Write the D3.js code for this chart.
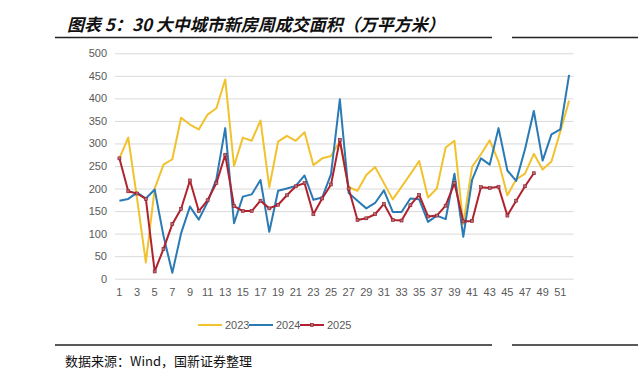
<!DOCTYPE html>
<html><head><meta charset="utf-8">
<script src="https://cdn.jsdelivr.net/npm/d3@7"></script>
<style>
html,body{margin:0;padding:0;background:#fff;}
svg{display:block;}
</style></head>
<body>
<svg id="chart" width="638" height="381"></svg>
<script>
const weeks = [1,2,3,4,5,6,7,8,9,10,11,12,13,14,15,16,17,18,19,20,21,22,23,24,25,26,27,28,29,30,31,32,33,34,35,36,37,38,39,40,41,42,43,44,45,46,47,48,49,50,51,52];
const y2023 = [267,313,178,36,200,253,265,357,342,331,364,378,442,250,313,306,351,203,304,317,306,325,252,267,272,305,203,195,230,248,212,176,204,232,261,180,200,291,306,121,248,276,307,260,185,220,233,277,242,260,326,395];
const y2024 = [173,177,191,178,198,95,13,101,160,131,170,221,334,123,182,187,219,104,195,200,206,229,175,180,232,398,190,173,156,168,196,148,148,178,176,126,140,132,233,93,219,267,253,334,240,217,287,372,262,320,331,452];
const y2025 = [267,194,189,177,16,66,121,155,218,150,174,212,275,161,150,150,173,156,164,185,205,212,143,178,209,308,200,130,134,143,166,130,129,163,186,138,140,162,212,127,128,203,201,204,140,173,205,234];
const yTicks = [0,50,100,150,200,250,300,350,400,450,500];
const xTickLabels = weeks.filter(w => w % 2 === 1);
const seriesNames = ["2023","2024","2025"];
const seriesColors = ["#F2C12E","#2A7AB5","#B0222E"];

(function(){
const svg = d3.select("#chart");
const pL = 115, pR = 573.5, pT = 53.3, pB = 278.7;
const x = d3.scaleBand().domain(weeks).range([pL, pR]).paddingInner(0).paddingOuter(0);
const y = d3.scaleLinear().domain([0, 500]).range([pB, pT]);
const cx = w => x(w) + x.bandwidth() / 2;
const mk = 3;

// Title
svg.append("text").attr("x", 67).attr("y", 31)
  .attr("font-family", "'Noto Sans CJK SC'").attr("font-weight", "bold")
  .attr("font-style", "italic").attr("font-size", 17).attr("fill", "#111")
  .text("图表 5：30 大中城市新房周成交面积（万平方米）");
svg.append("line").attr("x1", 55).attr("x2", 492).attr("y1", 37.5).attr("y2", 37.5).attr("stroke", "#222").attr("stroke-width", 1.3);
svg.append("line").attr("x1", 512).attr("x2", 638).attr("y1", 37.5).attr("y2", 37.5).attr("stroke", "#222").attr("stroke-width", 1.3);

// Grid + y axis
const gy = svg.append("g").attr("transform", `translate(${pL},0)`)
  .call(d3.axisLeft(y).tickValues(yTicks).tickSize(-(pR - pL)).tickPadding(8));
gy.select(".domain").remove();
gy.selectAll(".tick line").attr("stroke", "#D9D9D9").attr("stroke-width", 1);
gy.selectAll(".tick text").attr("font-family", "'Liberation Sans', Arial, sans-serif").attr("font-size", 11).attr("fill", "#595959");

// x axis
const gx = svg.append("g").attr("transform", `translate(0,${pB})`)
  .call(d3.axisBottom(x).tickValues(xTickLabels).tickSize(0).tickPadding(10));
gx.select(".domain").remove();
gx.selectAll(".tick text").attr("font-family", "'Liberation Sans', Arial, sans-serif").attr("font-size", 11).attr("fill", "#595959");

const line = d3.line().x(d => cx(d[0])).y(d => y(d[1]));
const data = [y2023, y2024, y2025].map(arr => arr.map((v, i) => [weeks[i], v]));
data.forEach((d, i) => {
  svg.append("path").datum(d).attr("fill", "none").attr("stroke", seriesColors[i])
    .attr("stroke-width", 2).attr("stroke-linejoin", "round").attr("d", line);
});
svg.append("g").selectAll("rect").data(data[2]).join("rect")
  .attr("x", d => cx(d[0]) - mk / 2).attr("y", d => y(d[1]) - mk / 2)
  .attr("width", mk).attr("height", mk)
  .attr("fill", "#B86A74").attr("stroke", "#8E1B26").attr("stroke-width", 0.6);

// Legend
const lg = svg.append("g");
const legX = [198, 249, 300];
seriesNames.forEach((n, i) => {
  lg.append("line").attr("x1", legX[i]).attr("x2", legX[i] + 24).attr("y1", 325).attr("y2", 325)
    .attr("stroke", seriesColors[i]).attr("stroke-width", 2);
  if (i === 2) {
    lg.append("rect").attr("x", legX[i] + 12 - mk / 2).attr("y", 325 - mk / 2).attr("width", mk).attr("height", mk)
      .attr("fill", "#B86A74").attr("stroke", "#8E1B26").attr("stroke-width", 0.6);
  }
  lg.append("text").attr("x", legX[i] + 27).attr("y", 329).attr("font-family", "'Liberation Sans', Arial, sans-serif")
    .attr("font-size", 11).attr("fill", "#595959").text(n);
});

// Bottom rule + source
svg.append("line").attr("x1", 55).attr("x2", 492).attr("y1", 345).attr("y2", 345).attr("stroke", "#222").attr("stroke-width", 1.3);
svg.append("line").attr("x1", 512).attr("x2", 638).attr("y1", 345).attr("y2", 345).attr("stroke", "#222").attr("stroke-width", 1.3);
svg.append("text").attr("x", 65).attr("y", 366).attr("font-family", "'Noto Sans CJK SC'")
  .attr("font-size", 13).attr("fill", "#111").text("数据来源：Wind，国新证券整理");
})();
</script>
</body></html>
